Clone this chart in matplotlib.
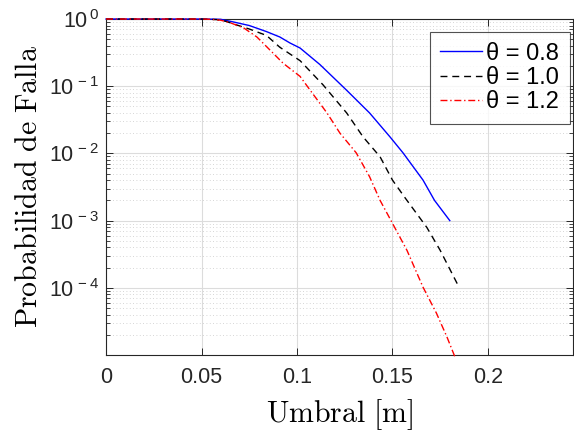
import math
import matplotlib
matplotlib.use("Agg")
import matplotlib.pyplot as plt
from matplotlib.ticker import FixedLocator, LogLocator, NullFormatter, FuncFormatter

plt.rcParams["mathtext.fontset"] = "cm"

# Failure probability vs. threshold for three theta values
x_08 = [0.0, 0.05, 0.060, 0.067, 0.075, 0.084, 0.091, 0.0963, 0.1016, 0.112, 0.126,
        0.138, 0.1487, 0.1555, 0.166, 0.172, 0.180]
p_08 = [1.0, 1.0, 0.99, 0.90, 0.80, 0.65, 0.54, 0.44, 0.37, 0.21, 0.087,
        0.040, 0.0176, 0.0102, 0.0040, 0.0020, 0.0010]

x_10 = [0.0, 0.05, 0.058, 0.063, 0.067, 0.075, 0.084, 0.091, 0.1016, 0.1136, 0.126,
        0.1346, 0.1435, 0.150, 0.1565, 0.168, 0.175, 0.185]
p_10 = [1.0, 1.0, 0.98, 0.92, 0.84, 0.71, 0.57, 0.38, 0.24, 0.105, 0.040,
        0.0176, 0.0089, 0.0040, 0.0022, 0.00079, 0.00036, 0.00010]

x_12 = [0.0, 0.05, 0.055, 0.060, 0.065, 0.072, 0.079, 0.0875, 0.0927, 0.1016, 0.108,
        0.1157, 0.1225, 0.131, 0.138, 0.1435, 0.150, 0.1576, 0.166, 0.173, 0.1785, 0.183]
p_12 = [1.0, 1.0, 0.99, 0.96, 0.88, 0.74, 0.54, 0.31, 0.22, 0.14, 0.079,
        0.040, 0.020, 0.0102, 0.0045, 0.0020, 0.00091, 0.00036, 0.000102, 0.000042,
        0.0000186, 0.0000089]

labels = ["θ = 0.8", "θ = 1.0", "θ = 1.2"]
x_ticks = [0, 0.05, 0.1, 0.15, 0.2]
x_tick_labels = ["0", "0.05", "0.1", "0.15", "0.2"]
y_ticks = [1e-4, 1e-3, 1e-2, 1e-1, 1e0]

sans = ["Liberation Sans", "DejaVu Sans"]
axc = "#262626"

fig = plt.figure(figsize=(5.74, 4.40), dpi=100)
ax = fig.add_axes([0.1847, 0.1932, 0.8135, 0.7636])

line_kw = dict(lw=1.0, zorder=4, clip_on=False)
ax.semilogy(x_08, p_08, color="#0000ff", ls="-", label=labels[0], **line_kw)
ax.semilogy(x_10, p_10, color="black", ls=(0, (5, 3.5)), label=labels[1], **line_kw)
ax.semilogy(x_12, p_12, color="#ff0000", ls=(0, (5, 2, 1, 2)), label=labels[2], **line_kw)

ax.set_xlim(0, 0.2445)
ax.set_ylim(1e-5, 1.0)

ax.xaxis.set_major_locator(FixedLocator(x_ticks))
ax.set_xticklabels(x_tick_labels)
ax.yaxis.set_major_locator(FixedLocator(y_ticks))
ax.yaxis.set_minor_locator(LogLocator(base=10, subs=range(2, 10)))
ax.yaxis.set_minor_formatter(NullFormatter())


def sci(v, pos):
    e = int(round(math.log10(v)))
    return r"$\mathregular{10^{\,%d}}$" % e


ax.yaxis.set_major_formatter(FuncFormatter(sci))

ax.tick_params(axis="both", which="both", direction="in", colors=axc,
               top=True, right=True, labelsize=15.5)
ax.tick_params(axis="both", which="major", length=5, width=0.7)
ax.tick_params(axis="y", which="minor", length=3, width=0.6)
ax.tick_params(axis="x", which="major", pad=9)
ax.tick_params(axis="y", which="major", pad=5)
for lab in ax.get_xticklabels() + ax.get_yticklabels():
    lab.set_family(sans)

for s in ax.spines.values():
    s.set_color(axc)
    s.set_linewidth(0.8)

ax.grid(True, which="major", color="#dcdcdc", lw=0.8, ls="-")
ax.grid(True, which="minor", axis="y", color="#c8c8c8", lw=0.6, ls=(0, (1, 3)))
ax.set_axisbelow(True)

ax.set_xlabel(r"$\mathrm{Umbral\ [m]}$", fontsize=21.5, labelpad=6)
ax.set_ylabel(r"$\mathrm{Probabilidad\ de\ Falla}$", fontsize=21.5, labelpad=4)

leg = ax.legend(loc="upper right", bbox_to_anchor=(0.9936, 0.961),
                prop={"family": sans, "size": 17},
                frameon=True, fancybox=False, handlelength=1.75, handletextpad=0.2,
                labelspacing=0.1, borderpad=0.45, borderaxespad=0.0)
leg.get_frame().set_edgecolor(axc)
leg.get_frame().set_linewidth(0.8)
leg.set_zorder(5)

fig.savefig("out.png", dpi=100)
